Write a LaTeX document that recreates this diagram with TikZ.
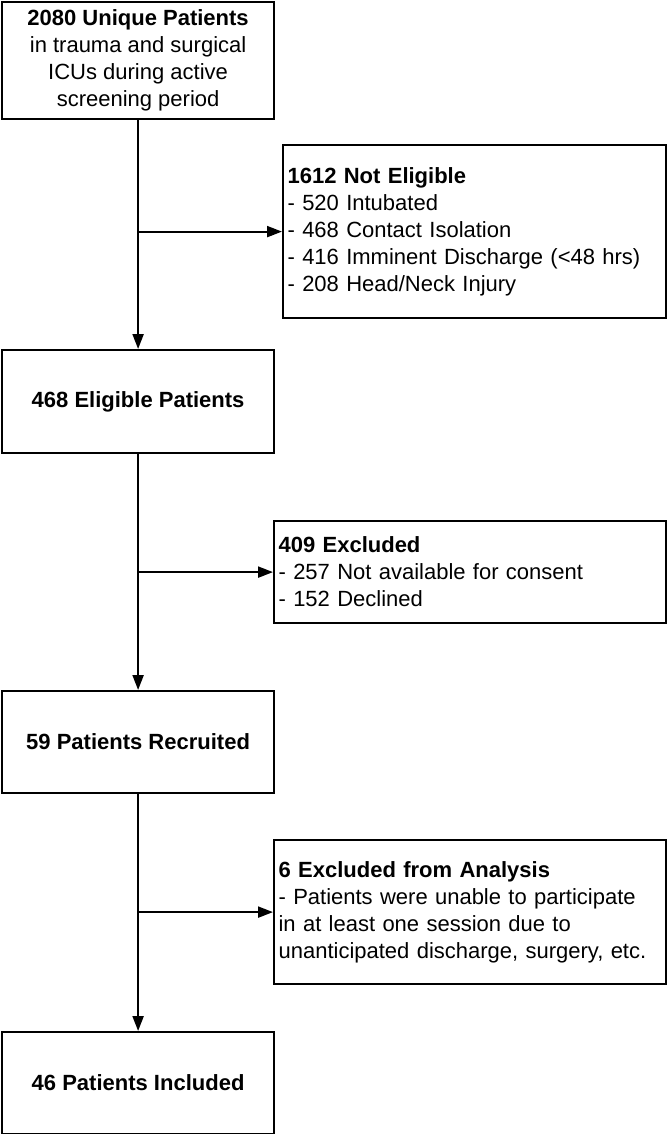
\documentclass[tikz,border=0pt]{standalone}
\usepackage{fontspec}
\setmainfont{Liberation Sans}
\usetikzlibrary{arrows.meta}
\begin{document}
\begin{tikzpicture}[x=1pt,y=-1pt,
  mainbox/.style={draw=black, line width=2.2pt, anchor=north west, inner sep=0pt,
    minimum width=272pt, align=center, font=\fontsize{22}{27}\selectfont},
  sidebox/.style={draw=black, line width=2.2pt, anchor=north west, inner xsep=4.5pt, inner ysep=0pt,
    align=left, font=\fontsize{22}{27}\selectfont},
  arr/.style={line width=2.2pt, -{Triangle[length=15pt,width=11pt]}}]
\useasboundingbox (0,0) rectangle (666,1134);
\node[mainbox, minimum height=117pt] (b1) at (1,1)
  {\textbf{2080 Unique Patients}\\in trauma and surgical\\ICUs during active\\screening period};
\node[sidebox, minimum height=173pt, text width=374pt] (b2) at (282,144)
  {\textbf{1612 Not Eligible}\\- 520 Intubated\\- 468 Contact Isolation\\- 416 Imminent Discharge (<48 hrs)\\- 208 Head/Neck Injury};
\node[mainbox, minimum height=103pt] (b3) at (1,349) {\textbf{468 Eligible Patients}};
\node[sidebox, minimum height=102pt, text width=383pt] (b4) at (273,520)
  {\textbf{409 Excluded}\\- 257 Not available for consent\\- 152 Declined};
\node[mainbox, minimum height=102pt] (b5) at (1,690) {\textbf{59 Patients Recruited}};
\node[sidebox, minimum height=144pt, text width=383pt] (b6) at (273,839)
  {\textbf{6 Excluded from Analysis}\\- Patients were unable to participate\\in at least one session due to\\unanticipated discharge, surgery, etc.};
\node[mainbox, minimum height=102pt] (b7) at (1,1031) {\textbf{46 Patients Included}};
\coordinate (j1) at (b1.south |- b2.west);
\coordinate (j2) at (b3.south |- b4.west);
\coordinate (j3) at (b5.south |- b6.west);
\draw[arr] (b1.south) -- (b3.north);
\draw[arr] (b3.south) -- (b5.north);
\draw[arr] (b5.south) -- (b7.north);
\draw[arr] (j1) -- (b2.west);
\draw[arr] (j2) -- (b4.west);
\draw[arr] (j3) -- (b6.west);
\end{tikzpicture}
\end{document}
